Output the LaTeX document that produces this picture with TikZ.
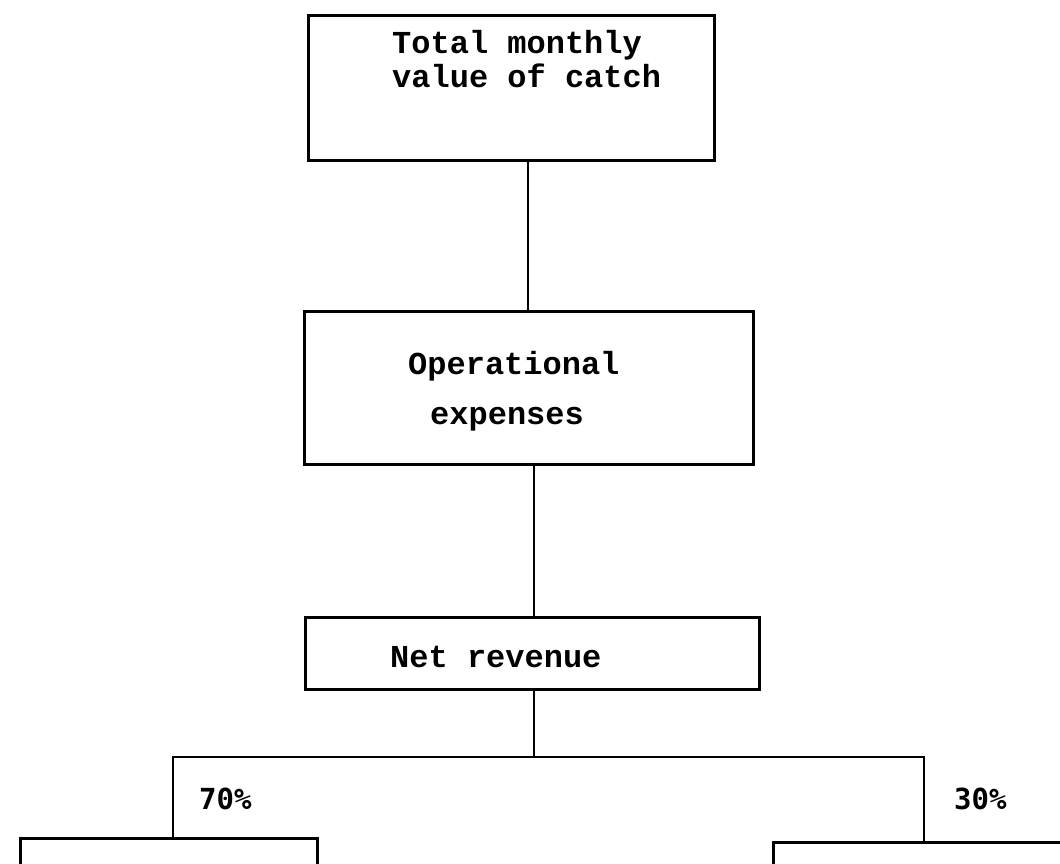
\documentclass[tikz,border=0pt]{standalone}
\usepackage{fontspec}
\newfontfamily\boxfont{Liberation Mono}
\newfontfamily\pctfont{DejaVu Sans Mono}
\begin{document}
\begin{tikzpicture}[x=1pt,y=-1pt,
  box/.style={draw=black,line width=2.6pt,rectangle,inner sep=0pt,anchor=north west},
  link/.style={draw=black,line width=2pt},
  boxtext/.style={inner sep=0pt,font=\boxfont\bfseries\fontsize{32}{34}\selectfont,align=left},
  pct/.style={inner sep=0pt,font=\pctfont\bfseries\fontsize{29}{32}\selectfont}]
\fill[white] (0,0) rectangle (1060,863);
\clip (0,0) rectangle (1060,863);
% boxes
\node[box,minimum width=406pt,minimum height=145pt] (total) at (307,14) {};
\node[box,minimum width=449pt,minimum height=153pt] (oper) at (303,310) {};
\node[box,minimum width=454pt,minimum height=72pt] (net) at (304,616) {};
\node[box,minimum width=297pt,minimum height=120pt] (left) at (19,837) {};
\node[box,minimum width=320pt,minimum height=120pt] (right) at (772,841) {};
% texts
\node[boxtext,anchor=base west] (t1) at (392,53) {Total monthly};
\node[boxtext,anchor=base west] (t2) at (392,87) {value of catch};
\node[boxtext,anchor=base west] (o1) at (408,374) {Operational};
\node[boxtext,anchor=base west] (o2) at (430,424) {expenses};
\node[boxtext,anchor=base west] (n1) at (390,667) {Net revenue};
\node[pct,anchor=base west] (p70) at (199,809) {70\%};
\node[pct,anchor=base west] (p30) at (954,809) {30\%};
% connectors
\coordinate (c1) at (528,0);
\coordinate (c2) at (534,0);
\coordinate (lx) at (173,0);
\coordinate (rx) at (924,0);
\coordinate (hy) at (0,757);
\draw[link] (total.south -| c1) -- (oper.north -| c1);
\draw[link] (oper.south -| c2) -- (net.north -| c2);
\draw[link] (net.south -| c2) -- (c2 |- hy);
\draw[link,line width=2.6pt] (lx |- left.north) -- (lx |- hy) -- (rx |- hy) -- (rx |- right.north);
\end{tikzpicture}
\end{document}
